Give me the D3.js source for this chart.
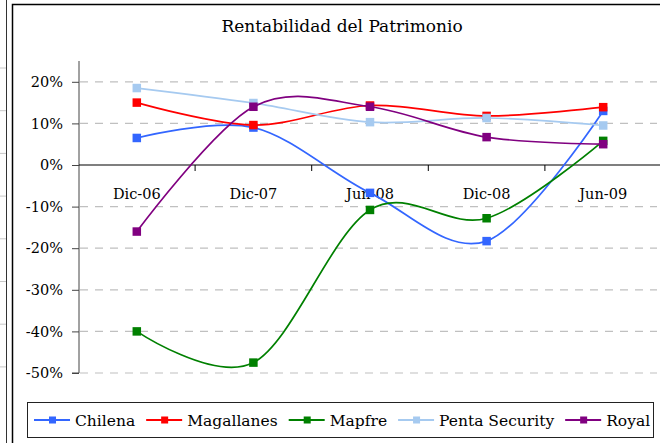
<!DOCTYPE html>
<html>
<head>
<meta charset="utf-8">
<script src="https://cdn.jsdelivr.net/npm/d3@7"></script>
<style>
  html, body { margin: 0; padding: 0; background: #fff; }
  svg { display: block; font-family: "DejaVu Serif", "Liberation Serif", serif; }
</style>
</head>
<body>
<div id="chart"></div>
<script>
// periodos y series (valores en %)
const periods = ['Dic-06', 'Dic-07', 'Jun-08', 'Dic-08', 'Jun-09'];
const chilena    = [6.5, 9.0, -6.7, -18.3, 13.0];
const magallanes = [15.0, 9.6, 14.3, 11.8, 13.9];
const mapfre     = [-40.0, -47.5, -10.8, -12.8, 5.8];
const penta      = [18.5, 14.9, 10.3, 11.3, 9.5];
const royal      = [-16.0, 14.0, 14.0, 6.7, 5.0];
const yTicks     = [-50, -40, -30, -20, -10, 0, 10, 20];

const series = [
    { name: 'Chilena', values: chilena, color: '#3366ff' },
    { name: 'Magallanes', values: magallanes, color: '#ff0000' },
    { name: 'Mapfre', values: mapfre, color: '#008000' },
    { name: 'Penta Security', values: penta, color: '#a6caf0' },
    { name: 'Royal', values: royal, color: '#800080' }
];

const width = 660, height = 443;

const svg = d3.select('#chart')
    .append('svg')
    .attr('width', width)
    .attr('height', height);

// restos de la hoja de calculo a la izquierda
svg.append('line')
    .attr('x1', 6.5).attr('x2', 6.5).attr('y1', 0).attr('y2', height)
    .attr('stroke', '#333').attr('stroke-width', 1);
svg.append('g')
    .selectAll('line')
    .data(d3.range(8))
    .enter()
    .append('line')
    .attr('x1', 0).attr('x2', 6)
    .attr('y1', i => 68 + i * 42.7).attr('y2', i => 68 + i * 42.7)
    .attr('stroke', '#c8c8c8');

// borde del grafico
svg.append('rect')
    .attr('x', 12.5).attr('y', 4.5)
    .attr('width', 700).attr('height', 500)
    .attr('fill', '#fff')
    .attr('stroke', '#000')
    .attr('stroke-width', 1.5);

svg.append('text')
    .attr('x', 342).attr('y', 32)
    .attr('text-anchor', 'middle')
    .attr('font-size', 17)
    .attr('fill', '#000')
    .text('Rentabilidad del Patrimonio');

const x = d3.scaleBand().domain(periods).range([78.5, 661.5]);
const y = d3.scaleLinear().domain([-50, 25]).range([373, 61]);
const cx = d => x(d) + x.bandwidth() / 2;

// lineas de grilla
svg.append('g')
    .selectAll('line')
    .data(yTicks.filter(t => t !== 0))
    .enter()
    .append('line')
    .attr('x1', 80).attr('x2', 657)
    .attr('y1', d => y(d)).attr('y2', d => y(d))
    .attr('stroke', '#c0c0c0')
    .attr('stroke-width', 1.2)
    .attr('stroke-dasharray', '8,7');

// eje y
const yAxis = svg.append('g')
    .attr('transform', 'translate(79,0)')
    .call(d3.axisLeft(y).tickValues(yTicks).tickSize(7).tickPadding(9)
        .tickFormat(d => d + '%'));
yAxis.select('.domain').attr('stroke', '#444').attr('d', `M-7,${y(-50)}H0V${y(25)}`);
yAxis.selectAll('.tick line').attr('stroke', '#444');
yAxis.selectAll('text')
    .attr('font-family', '"DejaVu Serif", serif')
    .attr('font-size', 14.5)
    .attr('fill', '#000');

// eje x en 0%
const xAxis = svg.append('g')
    .attr('transform', `translate(0,${y(0)})`);
xAxis.append('line')
    .attr('x1', 79).attr('x2', 660)
    .attr('stroke', '#000').attr('stroke-width', 1.2);
xAxis.selectAll('line.tk')
    .data(periods.slice(1))
    .enter()
    .append('line')
    .attr('class', 'tk')
    .attr('x1', d => x(d)).attr('x2', d => x(d))
    .attr('y1', 0).attr('y2', 6)
    .attr('stroke', '#000');
xAxis.selectAll('text')
    .data(periods)
    .enter()
    .append('text')
    .attr('x', cx)
    .attr('y', 34)
    .attr('text-anchor', 'middle')
    .attr('font-size', 14.5)
    .attr('fill', '#000')
    .text(d => d);

// series suavizadas
const line = d3.line()
    .x((d, i) => cx(periods[i]))
    .y(d => y(d))
    .curve(d3.curveCardinal.tension(0));

const sg = svg.append('g')
    .selectAll('g')
    .data(series)
    .enter()
    .append('g');

sg.append('path')
    .attr('d', d => line(d.values))
    .attr('fill', 'none')
    .attr('stroke', d => d.color)
    .attr('stroke-width', 1.7);

sg.selectAll('rect')
    .data(d => d.values.map((v, i) => ({ v, i, color: d.color })))
    .enter()
    .append('rect')
    .attr('x', d => cx(periods[d.i]) - 4.25)
    .attr('y', d => y(d.v) - 4.25)
    .attr('width', 8.5).attr('height', 8.5)
    .attr('fill', d => d.color);

// leyenda
svg.append('rect')
    .attr('x', 27.5).attr('y', 402.5)
    .attr('width', 626).attr('height', 35)
    .attr('fill', '#fff')
    .attr('stroke', '#222')
    .attr('stroke-width', 1);

let lx = 34;
series.forEach(s => {
    const item = svg.append('g').attr('transform', `translate(${lx},420)`);
    item.append('line')
        .attr('x1', 0).attr('x2', 36)
        .attr('stroke', s.color).attr('stroke-width', 1.8);
    item.append('rect')
        .attr('x', 15).attr('y', -3.5)
        .attr('width', 7).attr('height', 7)
        .attr('fill', s.color);
    const t = item.append('text')
        .attr('x', 41).attr('y', 5.5)
        .attr('font-size', 15.5)
        .attr('fill', '#000')
        .text(s.name);
    lx += 41 + t.node().getComputedTextLength() + 11;
});
</script>
</body>
</html>
